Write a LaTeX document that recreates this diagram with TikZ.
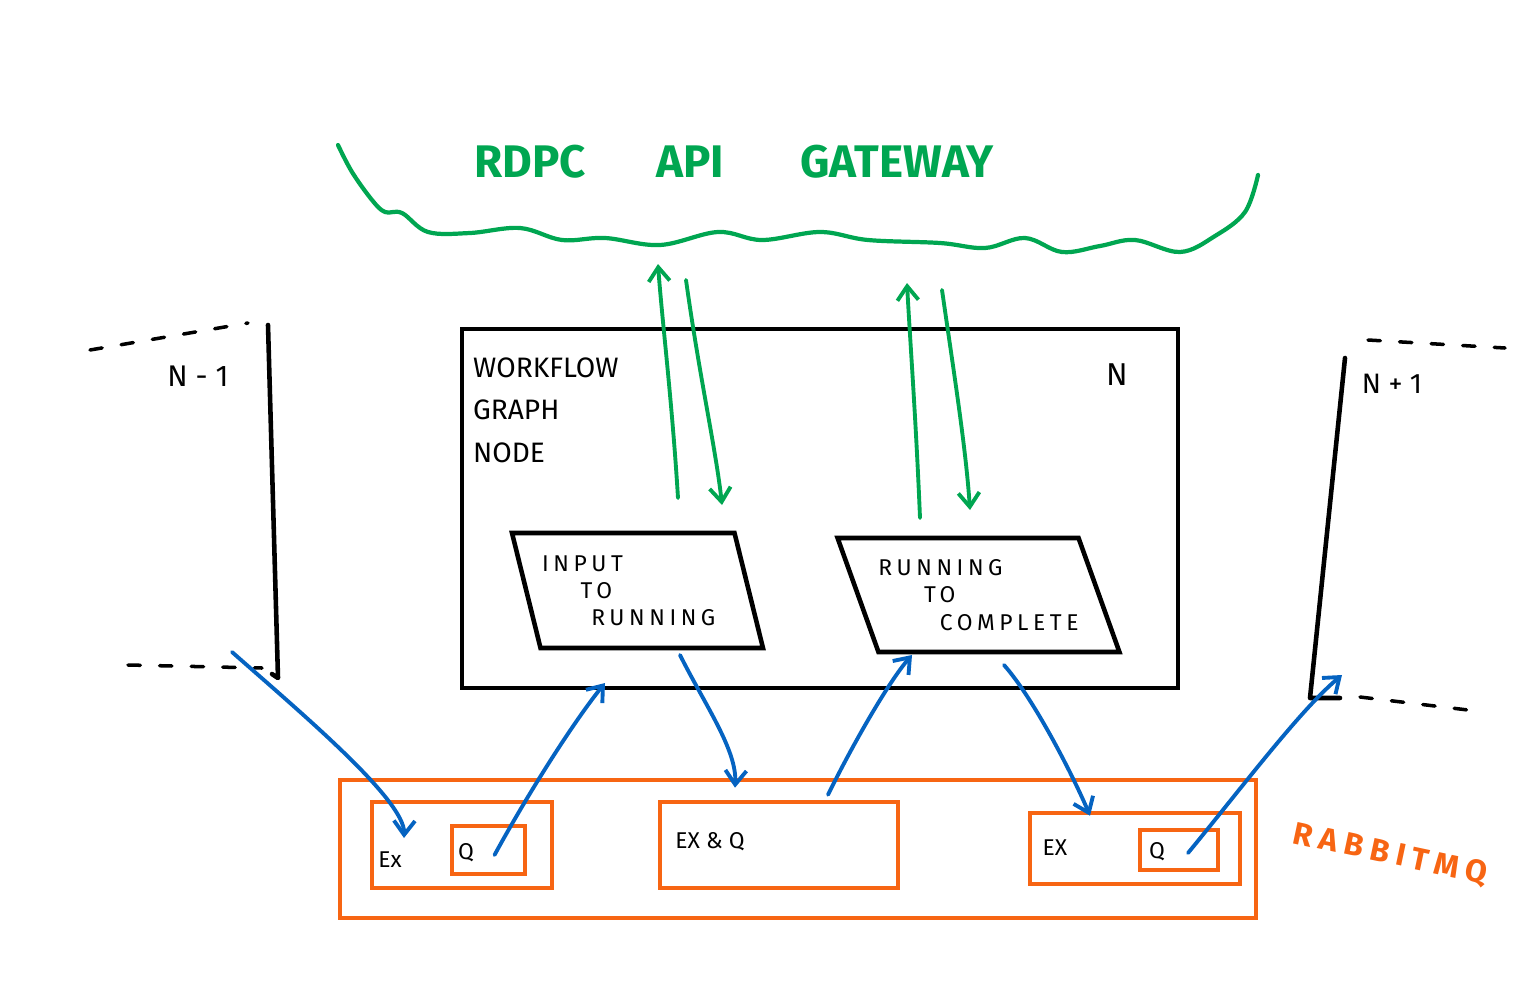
\documentclass[tikz,border=0pt]{standalone}
\usepackage{fontspec}
\setmainfont{Fira Sans}
\usetikzlibrary{shapes.geometric,arrows.meta}

\definecolor{gwgreen}{RGB}{0,166,81}
\definecolor{mqorange}{RGB}{247,101,19}
\definecolor{msgblue}{RGB}{5,99,193}

\tikzset{
	box/.style={draw,rectangle,line width=2.6pt,inner sep=0pt},
	mqbox/.style={draw=mqorange,rectangle,line width=2.6pt,inner sep=0pt},
	statebox/.style={draw,trapezium,trapezium stretches body,line width=2.6pt,inner sep=0pt,align=left,font=\fontsize{13}{15.5}\selectfont\addfontfeatures{LetterSpace=20}},
	call/.style={gwgreen,line width=2.2pt,line cap=round,-{Straight Barb[length=8pt,width=12pt]}},
	msg/.style={msgblue,line width=2.2pt,line cap=round,-{Straight Barb[length=8pt,width=12pt]}},
	rim/.style={line width=2.6pt,line cap=round,line join=round},
	dashline/.style={line width=2pt,line cap=round,dash pattern=on 7pt off 11pt},
}

\begin{document}
\begin{tikzpicture}[x=0.02cm,y=-0.02cm]

	\useasboundingbox (0,0) rectangle (1525,998);

	% gateway cloud
	\draw[gwgreen,line width=2.4pt,line cap=round] plot[smooth,tension=0.6] coordinates {(338,145) (352,172) (372,200) (385,212) (402,213) (428,232) (470,233) (520,228) (562,240) (605,238) (660,245) (718,232) (762,240) (820,232) (868,240) (940,243) (985,248) (1025,238) (1062,252) (1100,246) (1135,240) (1180,252) (1215,236) (1245,212) (1258,175)};
	\begin{scope}[every node/.style={gwgreen,font=\fontsize{26}{30}\bfseries}]
		\node (rdpc) at (530,162) {RDPC};
		\node (api) at (690,162) {API};
		\node (gateway) at (897,162) {GATEWAY};
	\end{scope}
	\coordinate (gwA) at (658,264);
	\coordinate (gwB) at (686,280);
	\coordinate (gwC) at (907,283);
	\coordinate (gwD) at (942,290);

	% workflow graph node N
	\node[box,minimum width=14.32cm,minimum height=7.18cm] (graphnode) at (820,508.5) {};
	\node[align=left,font=\fontsize{16}{24}\selectfont,inner sep=0pt] (wfglabel) at ([shift={(13,31)}]graphnode.north west) [anchor=north west] {WORKFLOW\\GRAPH\\NODE};
	\node[font=\fontsize{18}{20}\selectfont] (nlabel) at (1117,375) {N};

	\node[statebox,trapezium left angle=112,trapezium right angle=68,minimum width=5.02cm,minimum height=2.3cm] (inrun) at (637.5,590.5) {INPUT\\\hspace{22pt}TO\\\hspace{28pt}RUNNING\rule{10pt}{0pt}};
	\node[statebox,trapezium left angle=120,trapezium right angle=60,minimum width=5.54cm,minimum height=2.28cm] (runcomp) at (978.5,595) {RUNNING\\\hspace{26pt}TO\\\hspace{35pt}COMPLETE};

	% neighbour nodes
	\draw[rim] (268,325) -- (278,678) -- ++(-6,-4);
	\draw[dashline] (90,350) -- (248,323);
	\draw[dashline] (128,665) -- (262,668);
	\node[font=\fontsize{17}{20}\selectfont] (nminus) at (198,376) {N - 1};
	\coordinate (fromprev) at (232,652);

	\draw[rim] (1345,358) -- (1310,698) -- (1340,698);
	\draw[dashline] (1368,340) -- (1505,348);
	\draw[dashline] (1360,697) -- (1468,710);
	\node[font=\fontsize{16}{20}\selectfont] (nplus) at (1392,384) {N + 1};
	\coordinate (tonext) at (1342,675);

	% rabbitmq
	\node[mqbox,minimum width=18.32cm,minimum height=2.76cm] (rabbit) at (798,849) {};
	\node[mqbox,minimum width=3.6cm,minimum height=1.72cm] (exq1) at (462,845) {};
	\node[mqbox,minimum width=1.46cm,minimum height=0.96cm] (q1) at (488.5,850) {};
	\node[mqbox,minimum width=4.76cm,minimum height=1.72cm] (exq2) at (779,845) {};
	\node[mqbox,minimum width=4.2cm,minimum height=1.42cm] (exq3) at (1135,848.5) {};
	\node[mqbox,minimum width=1.56cm,minimum height=0.8cm] (q3) at (1179,850) {};
	\node[mqorange,font=\fontsize{18}{22}\bfseries\addfontfeatures{LetterSpace=22},rotate=-12] (mqlabel) at (1390,855) {RABBITMQ};

	\begin{scope}[every node/.style={font=\fontsize{13}{15}\selectfont}]
		\node (ex1) at (390,860) {Ex};
		\node (q1label) at (466,853) {Q};
		\node (ex2) at (710,842) {EX \& Q};
		\node (ex3) at (1055,848) {EX};
		\node (q3label) at (1157,852) {Q};
	\end{scope}

	% calls to and from the gateway
	\draw[call] ([shift={(40.5,-92.5)}]inrun.center) .. controls (672,400) and (662,320) .. (gwA);
	\draw[call] (gwB) .. controls (700,380) and (716,450) .. ([shift={(84.5,-85.5)}]inrun.center);
	\draw[call] ([shift={(-58.5,-77)}]runcomp.center) .. controls (916,420) and (910,340) .. (gwC);
	\draw[call] (gwD) .. controls (955,380) and (966,450) .. ([shift={(-8.5,-85)}]runcomp.center);

	% messages
	\draw[msg] (fromprev) .. controls (300,712) and (405,800) .. ([shift={(-58,-7)}]exq1.center);
	\draw[msg] ([shift={(6,5)}]q1.center) .. controls (530,790) and (575,720) .. ([shift={(-32.5,92.5)}]inrun.center);
	\draw[msg] ([shift={(42.5,64.5)}]inrun.center) .. controls (705,705) and (737,750) .. ([shift={(-44,-12)}]exq2.north);
	\draw[msg] ([shift={(49,-5)}]exq2.north) .. controls (855,740) and (890,680) .. ([shift={(-66.5,60)}]runcomp.center);
	\draw[msg] ([shift={(25.5,70)}]runcomp.center) .. controls (1035,700) and (1075,780) .. ([shift={(-45,5)}]exq3.north);
	\draw[msg] ([shift={(9,3)}]q3.center) .. controls (1240,790) and (1300,710) .. (tonext);

\end{tikzpicture}
\end{document}
